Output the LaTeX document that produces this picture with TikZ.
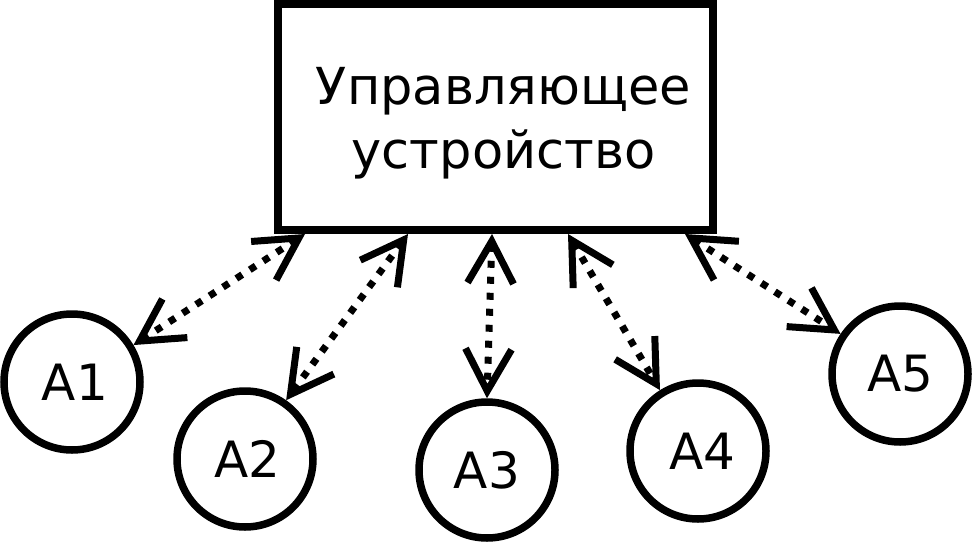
\documentclass[tikz,border=0pt]{standalone}
\usepackage{fontspec}
\setmainfont{DejaVu Sans}
\usetikzlibrary{arrows.meta,positioning}

\tikzset{
  openv/.tip={Straight Barb[length=42pt,width=46pt,line cap=butt,line join=miter]},
  agent/.style={draw, circle, line width=7.5pt, minimum size=136pt, inner sep=0pt,
    font=\fontsize{50}{60}\selectfont},
  link/.style={openv-openv, line width=7pt, dash pattern=on 7pt off 9pt}
}

\begin{document}
\begin{tikzpicture}[x=1pt,y=-1pt]
        \useasboundingbox (0,0) rectangle (974,543);

        % control unit
        \node[draw, line width=8pt, minimum width=435pt, minimum height=226pt] (ctrl) at (495.5,117) {};
        \node[font=\fontsize{51}{64}\selectfont, align=center] (ctrltext) at ([xshift=8pt,yshift=-6pt]ctrl.center) {Управляющее\\устройство};

        % agents
        \node[agent] (a1) at (72,382) {\hspace{6pt}A1};
        \node[agent] (a2) at (245,459) {\hspace{5pt}A2};
        \node[agent] (a3) at (487,470) {A3};
        \node[agent] (a4) at (698,451) {\hspace{8pt}A4};
        \node[agent] (a5) at (900,374) {A5};

        \draw[link] ([xshift=31pt]ctrl.south west) -- (a1.31);
        \draw[link] ([xshift=134pt]ctrl.south west) -- (a2.55);
        \draw[link] ([xshift=218pt]ctrl.south west) -- (a3.90);
        \draw[link] ([xshift=294pt]ctrl.south west) -- (a4.122);
        \draw[link] ([xshift=411pt]ctrl.south west) -- (a5.146);
    \end{tikzpicture}
\end{document}
